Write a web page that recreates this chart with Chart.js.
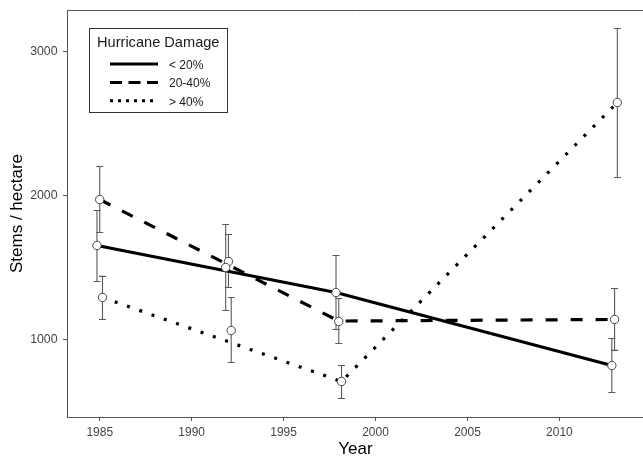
<!DOCTYPE html>
<html>
<head>
<meta charset="utf-8">
<script src="https://cdn.jsdelivr.net/npm/chart.js@4.4.1/dist/chart.umd.min.js"></script>
<style>
  html, body { margin: 0; padding: 0; background: #fff; overflow: hidden; }
  #wrap { position: relative; width: 644px; height: 461px; }
</style>
</head>
<body>
<div id="wrap"><canvas id="myChart"></canvas></div>
<script>
'use strict';

// values
let years = [1985, 1992, 1998, 2013];
let fitYears = [1985, 1998, 2013];

let lowMean = [1653, 1500, 1326, 819];
let lowLo = [1403, 1201, 1069, 632];
let lowHi = [1896, 1799, 1583, 1007];
let lowFit = [1653, 1326, 819];

let midMean = [1972, 1542, 1125, 1139];
let midLo = [1743, 1361, 972, 924];
let midHi = [2201, 1729, 1285, 1354];
let midFit = [1972, 1128, 1139];

let highMean = [1292, 1062, 708, 2646];
let highLo = [1139, 840, 590, 2125];
let highHi = [1438, 1292, 819, 3160];
let highFit = [1292, 708, 2646];

let xTicks = [1985, 1990, 1995, 2000, 2005, 2010];
let yTicks = [1000, 2000, 3000];
let damageLabels = ['< 20%', '20-40%', '> 40%'];

const FONT = '"Liberation Sans", Arial, sans-serif';
const AXIS_GREY = '#555';

// one entry per damage class (dodge = small sideways shift in years)
let groups = [
  {label: damageLabels[0], mean: lowMean, lo: lowLo, hi: lowHi, fit: lowFit, dodge: -0.15, dash: [], legendDash: []},
  {label: damageLabels[1], mean: midMean, lo: midLo, hi: midHi, fit: midFit, dodge: 0, dash: [12, 13], legendDash: [12, 6.5]},
  {label: damageLabels[2], mean: highMean, lo: highLo, hi: highHi, fit: highFit, dodge: 0.15, dash: [3, 10], legendDash: [3, 5]}
];

let ctx = document.getElementById('myChart').getContext('2d');

let datasets = [];
groups.forEach(g => {
  datasets.push({
    type: 'line',
    data: fitYears.map((yr, i) => ({x: yr + g.dodge, y: g.fit[i]})),
    borderColor: '#000',
    borderWidth: 3.2,
    borderDash: g.dash,
    borderCapStyle: 'butt',
    pointRadius: 0,
    fill: false,
    tension: 0,
    order: 2
  });
});
groups.forEach(g => {
  datasets.push({
    type: 'line',
    showLine: false,
    data: years.map((yr, i) => ({x: yr + g.dodge, y: g.mean[i]})),
    pointRadius: 4.2,
    pointBorderWidth: 1,
    pointBorderColor: '#444',
    pointBackgroundColor: '#fff',
    order: 1
  });
});

// error bars drawn through the chart scales
const errorBars = {
  id: 'errorBars',
  beforeDatasetsDraw(chart) {
    const c = chart.ctx;
    const x = chart.scales.x;
    const y = chart.scales.y;
    c.save();
    c.strokeStyle = '#5a5a5a';
    c.lineWidth = 1.1;
    groups.forEach(g => {
      years.forEach((yr, i) => {
        let px = x.getPixelForValue(yr + g.dodge);
        let top = y.getPixelForValue(g.hi[i]);
        let bot = y.getPixelForValue(g.lo[i]);
        c.beginPath();
        c.moveTo(px, top);
        c.lineTo(px, bot);
        c.moveTo(px - 3.5, top);
        c.lineTo(px + 3.5, top);
        c.moveTo(px - 3.5, bot);
        c.lineTo(px + 3.5, bot);
        c.stroke();
      });
    });
    c.restore();
  }
};

// top border of the panel + the legend box
const panelAndLegend = {
  id: 'panelAndLegend',
  afterDraw(chart) {
    const c = chart.ctx;
    const area = chart.chartArea;
    c.save();
    c.strokeStyle = AXIS_GREY;
    c.lineWidth = 1;
    c.beginPath();
    c.moveTo(area.left, area.top + 0.5);
    c.lineTo(area.right, area.top + 0.5);
    c.stroke();

    // legend
    c.fillStyle = '#fff';
    c.fillRect(89.5, 28.5, 138, 84);
    c.strokeStyle = '#333';
    c.strokeRect(89.5, 28.5, 138, 84);

    c.fillStyle = '#1a1a1a';
    c.font = '14.6px ' + FONT;
    c.textBaseline = 'alphabetic';
    c.textAlign = 'left';
    c.fillText('Hurricane Damage', 97, 46.7);

    c.font = '12px ' + FONT;
    groups.forEach((g, i) => {
      let ly = 64 + i * 18.4;
      c.strokeStyle = '#000';
      c.lineWidth = 3;
      c.lineCap = 'butt';
      c.setLineDash(g.legendDash);
      c.beginPath();
      c.moveTo(110, ly);
      c.lineTo(158, ly);
      c.stroke();
      c.setLineDash([]);
      c.fillText(g.label, 169, ly + 5);
    });
    c.restore();
  }
};

let myChart = new Chart(ctx, {
  type: 'line',
  data: {datasets: datasets},
  plugins: [errorBars, panelAndLegend],
  options: {
    responsive: true,
    maintainAspectRatio: false,
    animation: false,
    layout: {autoPadding: false, padding: {top: 10, left: 0, right: 0, bottom: 0}},
    plugins: {
      legend: {display: false},
      tooltip: {enabled: false}
    },
    scales: {
      x: {
        type: 'linear',
        min: 1983.22,
        max: 2014.6,
        afterBuildTicks: s => { s.ticks = xTicks.map(v => ({value: v})); },
        afterFit: s => { s.height = 44; s.paddingLeft = 0; s.paddingRight = 0; },
        grid: {drawOnChartArea: false, tickLength: 4, tickColor: AXIS_GREY, tickWidth: 1},
        border: {display: true, color: AXIS_GREY, width: 1},
        ticks: {color: '#444', font: {family: FONT, size: 12}, padding: 4, maxRotation: 0, callback: v => String(v)},
        title: {display: true, text: 'Year', color: '#000', font: {family: FONT, size: 17}, padding: {top: 0, bottom: 1}}
      },
      y: {
        type: 'linear',
        min: 461.5,
        max: 3288.5,
        afterBuildTicks: s => { s.ticks = yTicks.map(v => ({value: v})); },
        afterFit: s => { s.width = 67; s.paddingTop = 0; s.paddingBottom = 0; },
        grid: {drawOnChartArea: false, tickLength: 4, tickColor: AXIS_GREY, tickWidth: 1},
        border: {display: true, color: AXIS_GREY, width: 1},
        ticks: {color: '#444', font: {family: FONT, size: 12.3}, padding: 5.5, callback: v => String(v)},
        title: {display: true, text: 'Stems / hectare', color: '#000', font: {family: FONT, size: 17}, padding: {top: 6.8, bottom: 0}}
      }
    }
  }
});
</script>
</body>
</html>
